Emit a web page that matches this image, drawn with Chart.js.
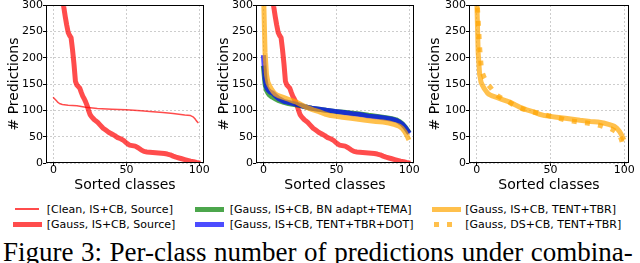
<!DOCTYPE html>
<html><head><meta charset="utf-8">
<script src="https://cdn.jsdelivr.net/npm/chart.js@4/dist/chart.umd.min.js"></script>
<style>
html,body{margin:0;padding:0;background:#fff;}
body{width:640px;height:263px;overflow:hidden;position:relative;}
canvas{position:absolute;top:0;}
.lt{position:absolute;font-family:"DejaVu Sans";font-size:11px;line-height:13px;color:#000;white-space:nowrap;}
.sw{position:absolute;}
#cap{position:absolute;left:3px;top:239px;font-family:"Liberation Serif";font-size:27px;line-height:27px;color:#000;white-space:nowrap;word-spacing:0.8px;}
</style>
</head><body>
<canvas id="c1" width="214" height="195" style="left:0px"></canvas>
<canvas id="c2" width="212" height="195" style="left:214px"></canvas>
<canvas id="c3" width="214" height="195" style="left:426px"></canvas>
<div id="legend"></div>
<div id="cap">Figure 3: Per-class number of predictions under combina-</div>
<script>
// ---------- data ----------
const xTicks = [0, 50, 100];
const yTicks = [0, 50, 100, 150, 200, 250, 300];
const xTitle = 'Sorted classes';
const yTitle = '# Predictions';

const seriesLabels = [
  '[Clean, IS+CB, Source]',
  '[Gauss, IS+CB, Source]',
  '[Gauss, IS+CB, BN adapt+TEMA]',
  '[Gauss, IS+CB, TENT+TBR+DOT]',
  '[Gauss, IS+CB, TENT+TBR]',
  '[Gauss, DS+CB, TENT+TBR]'
];

const cleanX = [0,1,2,3,4,6,10,16,22,30,40,50,60,66,75,82,90,94,96,97,98,99];
const cleanY = [124,121,118,115,113,111,109.5,108.5,106,103.5,102,101,99,98,96,94,91,90,87,84,80,77];

const gaussSrcX = [0,2,4,6,7,8,9,10,11,12,13,14,15,16,17,18,19,20,21,22,23,24,25,26,27,28,30,32,34,36,38,40,42,44,46,48,50,52,54,56,58,60,62,64,66,68,72,76,78,80,82,84,86,88,90,92,94,96,98,99];
const gaussSrcY = [620,450,370,318,296,278,262,248,242,238,215,188,155,148,145,142,134,127,122,116,109,100,92,88,85,82,78,72,66,62,58,55,52,48,46,43,38,34,33,32,29,25,22,21,20.5,20,19,18,17,15.5,13,11,9.5,8,6.5,5,3.5,2.5,1,0.5];

const bnTemaX = [0,1,2,3,4,5,6,8,10,12,14,17,21,25,28,33,38,43,49,55,61,66,72,78,84,88,91,93,95,97,98,99];
const bnTemaY = [180,150,138,133,129,127,125,122,119,117,115,113,111,109,107,104,102,100,98,96.5,94.5,93,90.5,88.5,86,84,82,79,75,69,65,61];

const dotX = [0,1,2,3,4,5,6,8,10,12,14,17,21,25,28,33,38,43,49,55,61,66,72,78,84,88,91,93,95,97,98,99];
const dotY = [200,160,144,139,136,134,133,128,123,120,117,115,112.5,110,107,104,102,100,98,96,93.5,92,89,87.5,85,83,81,78,74,68,64,60];

const tbrX = [0,1,2,3,4,5,6,7,8,10,12,14,17,20,23,26,30,34,38,42,46,50,54,60,65,70,77,82,86,90,93,95,97,98,99];
const tbrY = [320,210,168,153,147,142,138,134,131,128,126,124,121,118,115,110.5,105,101,97.5,93,90,88.5,87,85,83,81,79,78,76,73,70,66,59,54,48];

const dsTbrX = [0,1,2,3,4,5,6,8,10,12,14,17,20,24,28,32,38,43,47,52,56,61,65,70,75,80,84,88,91,93,95,97,98,99];
const dsTbrY = [320,272,220,185,170,163,158,148,141,134,128,123,119,112,106,102,97,94,91,87,85,81,79.5,77.5,76,73.5,71,67,65,62,58,52,45,35];

// ---------- styles ----------
const RED = 'rgba(255,0,0,0.7)';
const GREEN = 'rgba(0,128,0,0.7)';
const BLUE = 'rgba(0,0,255,0.7)';
const ORANGE = 'rgba(255,165,0,0.7)';
const THICK = 5;
const DOTS = [5, 8.25];

function pts(xs, ys) { return xs.map((x, i) => ({x: x, y: ys[i]})); }
function ds(label, xs, ys, color, width, order, dash) {
  return {
    label: label, data: pts(xs, ys), borderColor: color, backgroundColor: color,
    borderWidth: width, order: order, borderDash: dash || [],
    borderCapStyle: dash ? 'butt' : 'square', borderJoinStyle: 'round',
    pointRadius: 0, fill: false, tension: 0
  };
}

const frame = {
  id: 'frame',
  afterDatasetsDraw(chart) {
    const a = chart.chartArea, ctx = chart.ctx;
    ctx.save();
    ctx.strokeStyle = '#000';
    ctx.lineWidth = 1;
    ctx.strokeRect(Math.round(a.left) + 0.5, Math.round(a.top) + 0.5,
                   Math.round(a.right - a.left) - 1, Math.round(a.bottom - a.top) - 1);
    ctx.restore();
  }
};

const GRID = 'rgba(150,150,150,0.6)';
function makeChart(id, datasets, cfg) {
  return new Chart(document.getElementById(id), {
    type: 'line',
    data: { datasets: datasets },
    options: {
      responsive: false, animation: false, devicePixelRatio: 1,
      layout: { padding: { left: 0, right: cfg.right, top: 5, bottom: 0 } },
      plugins: { legend: { display: false }, tooltip: { enabled: false } },
      scales: {
        x: {
          type: 'linear', min: -5.2, max: 103.2,
          afterBuildTicks: s => { s.ticks = xTicks.map(v => ({ value: v })); },
          afterFit: s => { s.height = 32; s.paddingLeft = 0; s.paddingRight = 0; },
          ticks: { font: { family: 'DejaVu Sans', size: 11 }, color: '#000', padding: -2, maxRotation: 0, autoSkip: false },
          grid: { color: GRID, lineWidth: 0.8, tickColor: '#000', tickLength: 3, tickWidth: 1 },
          border: { display: false, dash: [2, 2] },
          title: { display: true, text: xTitle, color: '#000', font: { family: 'DejaVu Sans', size: 14 }, padding: { top: 0, bottom: 1.6 } }
        },
        y: {
          type: 'linear', min: 0, max: 300,
          afterBuildTicks: s => { s.ticks = yTicks.map(v => ({ value: v })); },
          afterFit: s => { s.width = cfg.yw; s.paddingTop = 0; s.paddingBottom = 0; },
          ticks: { font: { family: 'DejaVu Sans', size: 11 }, color: '#000', padding: 0, autoSkip: false },
          grid: { color: GRID, lineWidth: 0.8, tickColor: '#000', tickLength: 3, tickWidth: 1 },
          border: { display: false, dash: [2, 2] },
          title: { display: true, text: yTitle, color: '#000', font: { family: 'DejaVu Sans', size: 14 }, padding: { top: cfg.tp, bottom: 0 } }
        }
      }
    },
    plugins: [frame]
  });
}

makeChart('c1', [
  ds(seriesLabels[0], cleanX, cleanY, RED, 1.5, 1),
  ds(seriesLabels[1], gaussSrcX, gaussSrcY, RED, THICK, 0)
], { yw: 46, right: 10, tp: 5.6 });

makeChart('c2', [
  ds(seriesLabels[1], gaussSrcX, gaussSrcY, RED, THICK, 3),
  ds(seriesLabels[2], bnTemaX, bnTemaY, GREEN, THICK, 2),
  ds(seriesLabels[3], dotX, dotY, BLUE, THICK, 1),
  ds(seriesLabels[4], tbrX, tbrY, ORANGE, THICK, 0)
], { yw: 42, right: 12, tp: 1.6 });

makeChart('c3', [
  ds(seriesLabels[4], tbrX, tbrY, ORANGE, THICK, 1),
  ds(seriesLabels[5], dsTbrX, dsTbrY, ORANGE, THICK, 0, DOTS)
], { yw: 43, right: 11, tp: 0.6 });

// ---------- legend (HTML) ----------
const legendItems = [
  { label: seriesLabels[0], color: RED, w: 1.5, col: 0, row: 0 },
  { label: seriesLabels[1], color: RED, w: THICK, col: 0, row: 1 },
  { label: seriesLabels[2], color: GREEN, w: THICK, col: 1, row: 0 },
  { label: seriesLabels[3], color: BLUE, w: THICK, col: 1, row: 1 },
  { label: seriesLabels[4], color: ORANGE, w: THICK, col: 2, row: 0 },
  { label: seriesLabels[5], color: ORANGE, w: THICK, col: 2, row: 1, dotted: true }
];
const colSample = [[15, 39], [197, 221], [434, 458]];
const colText = [46.7, 229.7, 465.3];
const rowCenter = [209, 224];
const lg = document.getElementById('legend');
legendItems.forEach(it => {
  const [x0, x1] = colSample[it.col];
  const cy = rowCenter[it.row];
  const sw = document.createElement('div');
  sw.className = 'sw';
  const ext = it.dotted || it.w < 2 ? 0 : it.w / 2;
  sw.style.left = (x0 - ext) + 'px';
  sw.style.width = (x1 - x0 + 2 * ext) + 'px';
  sw.style.top = (cy - it.w / 2) + 'px';
  sw.style.height = it.w + 'px';
  if (it.dotted) {
    sw.style.background = `repeating-linear-gradient(to right, ${it.color} 0px, ${it.color} ${DOTS[0]}px, transparent ${DOTS[0]}px, transparent ${DOTS[0] + DOTS[1]}px)`;
  } else {
    sw.style.background = it.color;
  }
  lg.appendChild(sw);
  const t = document.createElement('div');
  t.className = 'lt';
  t.textContent = it.label;
  t.style.left = colText[it.col] + 'px';
  t.style.top = (cy + 3.8 - 10.3) + 'px';
  lg.appendChild(t);
});
</script>
</body></html>
